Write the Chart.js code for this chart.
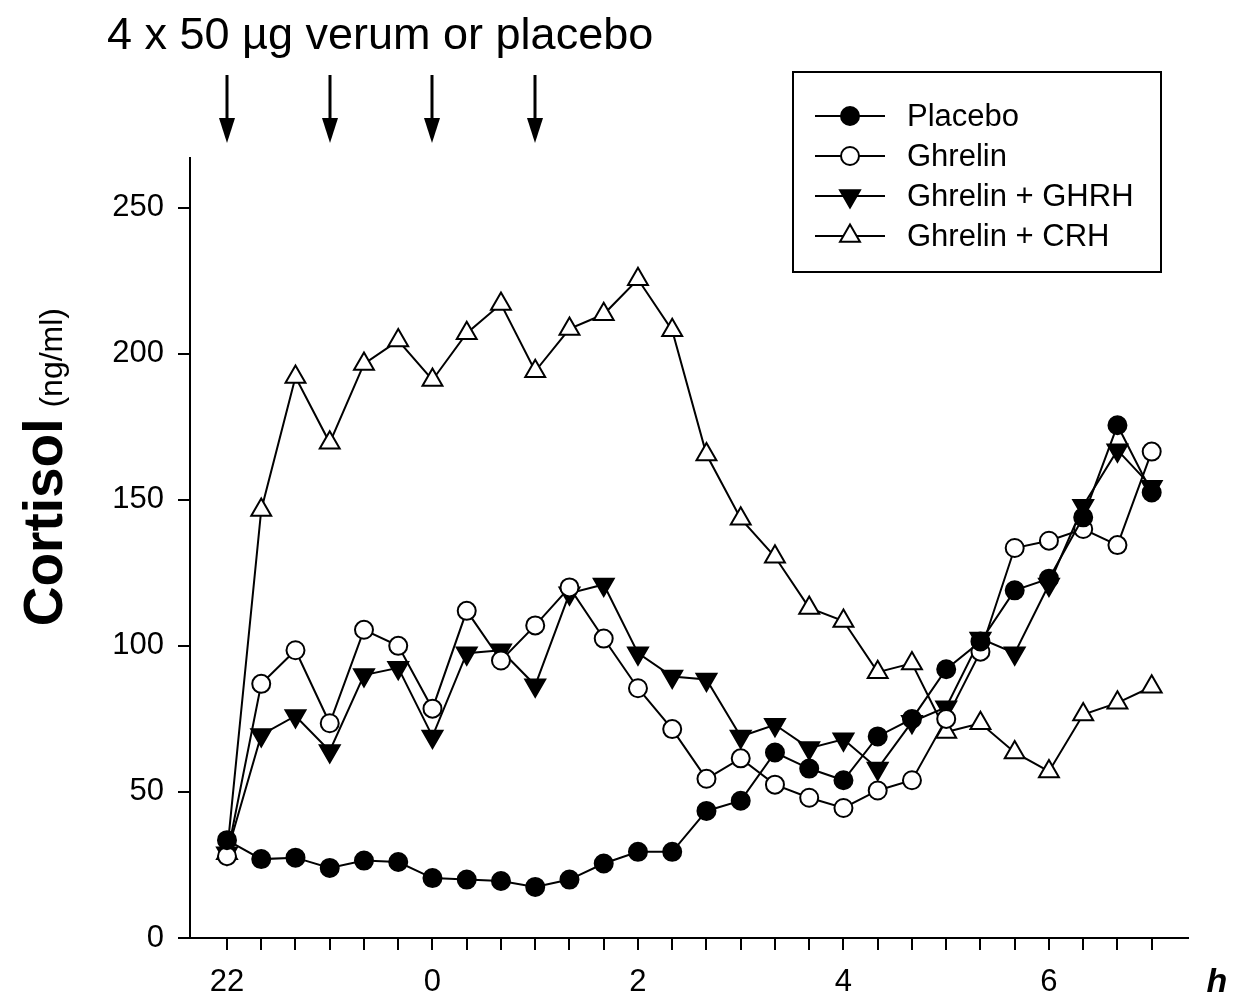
<!doctype html>
<html lang="en">
<head>
    <meta charset="utf-8">
    <title>Cortisol</title>
    <script src="https://cdn.jsdelivr.net/npm/chart.js@4.4.0/dist/chart.umd.min.js"></script>
    <style>
        html, body { margin: 0; padding: 0; background: #fff; }
        #wrap { width: 1238px; height: 1002px; }
    </style>
</head>
<body>
<div id="wrap">
    <canvas id="myChart" width="1238" height="1002"></canvas>
</div>

<script>
    // sampling times, minutes after 22:00
    const minutes = [0, 20, 40, 60, 80, 100, 120, 140, 160, 180, 200, 220, 240, 260,
        280, 300, 320, 340, 360, 380, 400, 420, 440, 460, 480, 500, 520, 540];

    const placebo = [33.5, 27, 27.5, 24, 26.5, 26, 20.5, 20, 19.5, 17.5, 20, 25.5, 29.5, 29.5,
        43.5, 47, 63.5, 58, 54, 69, 75, 92, 101.5, 119, 123, 144, 175.5, 152.5];
    const ghrelin = [28, 87, 98.5, 73.5, 105.5, 100, 78.5, 112, 95, 107, 120, 102.5, 85.5, 71.5,
        54.5, 61.5, 52.5, 48, 44.5, 50.5, 54, 75, 98, 133.5, 136, 140, 134.5, 166.5];
    const ghrelinGhrh = [29, 69.5, 76, 64, 90, 92.5, 69, 97.5, 98.5, 86.5, 118, 121, 97.5, 89.5,
        88.5, 69, 73, 65, 68, 58, 74, 79, 102.5, 97.5, 121, 148, 167, 154.5];
    const ghrelinCrh = [29, 146.5, 192, 169.5, 196.5, 204.5, 191, 207, 217, 194, 208.5, 213.5, 225.5, 208,
        165.5, 143.5, 130.5, 113, 108.5, 91, 94, 70.5, 73.5, 63.5, 57, 76.5, 80.5, 86];

    const xTickMinutes = [0, 120, 240, 360, 480];
    const xTickLabels = ['22', '0', '2', '4', '6'];
    const yTicks = [0, 50, 100, 150, 200, 250];
    const doseMinutes = [0, 60, 120, 180];

    const FONT = "Arial, 'Liberation Sans', sans-serif";

    function pts(values) {
        return values.map((v, i) => ({x: minutes[i], y: v}));
    }

    const series = [
        {label: 'Placebo', data: pts(placebo), pointStyle: 'circle', fill: '#000', radius: 9, rotation: 0},
        {label: 'Ghrelin', data: pts(ghrelin), pointStyle: 'circle', fill: '#fff', radius: 9, rotation: 0},
        {label: 'Ghrelin + GHRH', data: pts(ghrelinGhrh), pointStyle: 'triangle', fill: '#000', radius: 11.5, rotation: 180},
        {label: 'Ghrelin + CRH', data: pts(ghrelinCrh), pointStyle: 'triangle', fill: '#fff', radius: 11.5, rotation: 0}
    ];

    const datasets = series.map(s => ({
        label: s.label,
        data: s.data,
        borderColor: '#000',
        borderWidth: 2,
        backgroundColor: s.fill,
        pointBackgroundColor: s.fill,
        pointBorderColor: '#000',
        pointBorderWidth: 2,
        pointStyle: s.pointStyle,
        pointRadius: s.radius,
        pointRotation: s.rotation,
        tension: 0,
        fill: false
    }));

    // title, dose arrows, y title, legend box and the "h"
    const extras = {
        id: 'extras',
        afterDraw(chart) {
            const ctx = chart.ctx;
            const xs = chart.scales.x;
            ctx.save();
            ctx.fillStyle = '#000';
            ctx.strokeStyle = '#000';

            ctx.font = '45px ' + FONT;
            ctx.textBaseline = 'alphabetic';
            ctx.textAlign = 'left';
            ctx.fillText('4 x 50 \u00b5g verum or placebo', 107, 49);

            doseMinutes.forEach(m => {
                const x = Math.round(xs.getPixelForValue(m));
                ctx.lineWidth = 3;
                ctx.beginPath();
                ctx.moveTo(x, 75);
                ctx.lineTo(x, 124);
                ctx.stroke();
                ctx.beginPath();
                ctx.moveTo(x - 8, 118);
                ctx.lineTo(x + 8, 118);
                ctx.lineTo(x, 143);
                ctx.closePath();
                ctx.fill();
            });

            // y axis title
            const bold = 'bold 55px ' + FONT;
            const normal = '32px ' + FONT;
            ctx.font = bold;
            const wB = ctx.measureText('Cortisol').width;
            ctx.font = normal;
            const wN = ctx.measureText('(ng/ml)').width;
            const gap = 11;
            const total = wB + gap + wN;
            ctx.save();
            ctx.translate(62, 308 + total);
            ctx.rotate(-Math.PI / 2);
            ctx.font = bold;
            ctx.fillText('Cortisol', 0, 0);
            ctx.font = normal;
            ctx.fillText('(ng/ml)', wB + gap, 0);
            ctx.restore();

            // x unit
            ctx.font = 'italic bold 34px ' + FONT;
            ctx.textAlign = 'center';
            ctx.fillText('h', 1217, 992);

            // legend
            ctx.lineWidth = 2;
            ctx.strokeRect(793, 72, 368, 200);
            ctx.textAlign = 'left';
            ctx.textBaseline = 'middle';
            ctx.font = '31px ' + FONT;
            series.forEach((s, i) => {
                const y = 116 + i * 40;
                ctx.lineWidth = 2;
                ctx.strokeStyle = '#000';
                ctx.beginPath();
                ctx.moveTo(815, y);
                ctx.lineTo(885, y);
                ctx.stroke();
                ctx.fillStyle = s.fill;
                Chart.helpers.drawPoint(ctx, {
                    pointStyle: s.pointStyle, radius: s.radius, rotation: s.rotation, borderWidth: 2
                }, 850, y);
                ctx.fillStyle = '#000';
                ctx.fillText(s.label, 907, y + 1);
            });
            ctx.restore();
        }
    };

    const config = {
        type: 'line',
        data: {datasets: datasets},
        options: {
            responsive: false,
            animation: false,
            events: [],
            layout: {padding: {top: 158, right: 50, left: 0, bottom: 0}},
            plugins: {
                legend: {display: false},
                tooltip: {enabled: false},
                title: {display: false}
            },
            scales: {
                x: {
                    type: 'linear',
                    min: -21.6,
                    max: 561.2,
                    afterBuildTicks: (scale) => {
                        scale.ticks = minutes.map(v => ({value: v}));
                    },
                    afterFit: (scale) => {
                        scale.height = 64;
                    },
                    ticks: {
                        autoSkip: false,
                        maxRotation: 0,
                        padding: 14,
                        color: '#000',
                        font: {family: FONT, size: 31},
                        callback: (value) => {
                            const k = xTickMinutes.indexOf(value);
                            return k >= 0 ? xTickLabels[k] : '';
                        }
                    },
                    grid: {display: true, drawOnChartArea: false, drawTicks: true, tickLength: 12, color: '#000', lineWidth: 2},
                    border: {display: true, color: '#000', width: 2}
                },
                y: {
                    min: 0,
                    max: 267,
                    afterBuildTicks: (scale) => {
                        scale.ticks = yTicks.map(v => ({value: v}));
                    },
                    afterFit: (scale) => {
                        scale.width = 190;
                    },
                    ticks: {
                        padding: 14,
                        color: '#000',
                        font: {family: FONT, size: 31}
                    },
                    grid: {display: true, drawOnChartArea: false, drawTicks: true, tickLength: 12, color: '#000', lineWidth: 2},
                    border: {display: true, color: '#000', width: 2}
                }
            }
        },
        plugins: [extras]
    };

    const myChart = new Chart(document.getElementById('myChart'), config);
</script>
</body>
</html>
